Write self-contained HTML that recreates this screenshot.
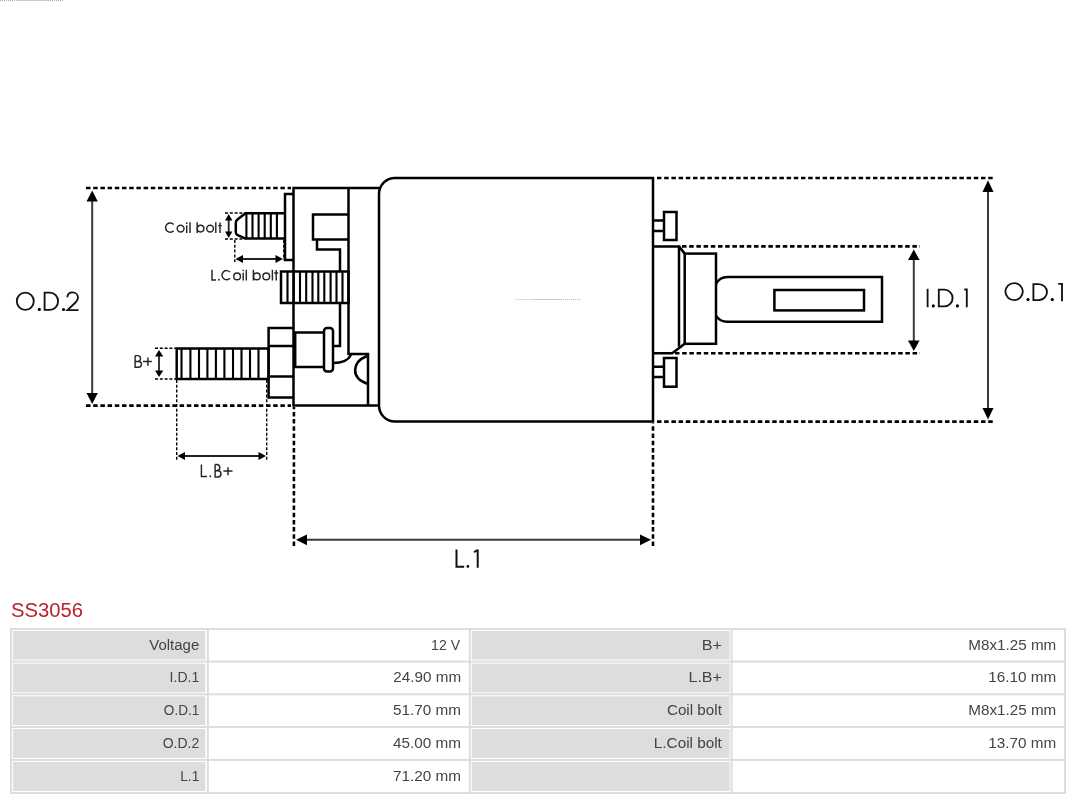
<!DOCTYPE html>
<html>
<head>
<meta charset="utf-8">
<style>
html,body{margin:0;padding:0;background:#fff;}
body{width:1080px;height:799px;position:relative;overflow:hidden;font-family:"Liberation Sans",sans-serif;}
svg{position:absolute;left:0;top:0;will-change:transform;}
.o{stroke:#000;stroke-width:2.5;fill:none;stroke-linejoin:miter;}
.s{stroke:#000;stroke-width:2.1;fill:none;}
.d{stroke:#000;stroke-width:2.6;stroke-dasharray:4.5 2.7;fill:none;}
.t{stroke:#000;stroke-width:1.4;stroke-dasharray:3 1.8;fill:none;}
.a{stroke:#3a3a3a;stroke-width:2;fill:none;}
.a2{stroke:#222;stroke-width:1.8;fill:none;}
.h{fill:#000;stroke:none;}
.gl{fill:none;stroke:#111;stroke-width:1.85;}
.gs{fill:none;stroke:#262626;stroke-width:1.45;}
.hs{fill:#262626;stroke:none;}
.title{position:absolute;left:11px;top:598px;font-size:20px;color:#b0222a;line-height:24px;}
.ln{position:absolute;background:#ddd;}
.lab{position:absolute;background:#ddd;}
.tt{font-family:"Liberation Sans",sans-serif;font-size:14px;fill:#444;}
</style>
</head>
<body>
<svg width="1080" height="799" viewBox="0 0 1080 799">
  <!-- faint artifacts -->
  <path d="M0 0.5 H16 M48 0.5 H64" stroke="#aaa" stroke-width="1" stroke-dasharray="1 1"/><path d="M16 0.5 H48" stroke="#ccc" stroke-width="1"/>
  <path d="M515.6 299.5 H532 M561 299.5 H580.5" stroke="#bbb" stroke-width="1" stroke-dasharray="1 1"/><path d="M532 299.5 H561" stroke="#ccc" stroke-width="1"/>

  <!-- main body -->
  <path class="o" d="M395 178 H653 V421.6 H395 A16 16 0 0 1 379 405.6 V194 A16 16 0 0 1 395 178 Z"/>
  <!-- flange -->
  <path class="o" d="M379 188 H293.5 V405.6 H379"/>
  <path class="o" d="M348.5 188 V354 H368 V405.6"/>
  <!-- C shape -->
  <path class="o" d="M348.5 214.4 H313 V239.4 H348.5"/>
  <path class="o" d="M317 239.4 V249.4 H340 V271.5"/>
  <path class="o" d="M340 303 V346 H333"/>
  <!-- coil terminal block -->
  <rect class="o" x="281" y="271.5" width="67.5" height="31.5"/>
  <path class="s" d="M287.5 271.5V303 M293.75 271.5V303 M300 271.5V303 M306.2 271.5V303 M312.5 271.5V303 M318.3 271.5V303 M324.3 271.5V303 M330.6 271.5V303 M336.5 271.5V303 M342.5 271.5V303"/>
  <!-- coil plate -->
  <path class="o" d="M293.5 194 H285 V260 H293.5"/>
  <!-- coil bolt -->
  <path class="o" d="M285.5 213.3 H245.5 L237.2 219.8 Q235.8 221 235.8 223 V232 Q235.8 234 237.2 235 L245.5 238.6 H285.5"/>
  <path class="s" d="M246.4 213.3V238.6 M252.5 213.3V238.6 M258.6 213.3V238.6 M264.7 213.3V238.6 M270.8 213.3V238.6 M276.9 213.3V238.6"/>
  <!-- B+ nut -->
  <path class="o" d="M293.5 328 H268.6 V397.5 H293.5 M268.6 346 H293.5 M268.6 376.5 H293.5"/>
  <!-- B+ bolt -->
  <rect class="o" x="176.7" y="348.5" width="91.9" height="30.5"/>
  <path class="s" d="M181.5 348.5V379 M190.4 348.5V379 M199 348.5V379 M207.4 348.5V379 M215.9 348.5V379 M224.4 348.5V379 M233 348.5V379 M241.5 348.5V379 M250 348.5V379 M258.5 348.5V379"/>
  <!-- pin spacer & pill -->
  <path class="o" d="M293.5 332.5 H324 M293.5 367 H324 M295.2 332.5 V367"/>
  <rect class="o" x="324" y="328" width="9" height="43.5" rx="3"/>
  <path class="o" d="M333 363 Q347 363 351 355"/>
  <path class="o" d="M367 356 C352 362 350 378 368 384"/>

  <!-- right tabs -->
  <path class="o" d="M653 220.6 H664 M653 231 H664"/>
  <rect class="o" x="664" y="212" width="12.5" height="28"/>
  <path class="o" d="M653 366.8 H664 M653 377 H664"/>
  <rect class="o" x="664" y="358" width="12.5" height="28.7"/>
  <!-- plunger -->
  <path class="o" d="M653 246.4 H679 V346.7"/>
  <path class="o" d="M679 246.4 L684.7 253.6"/>
  <rect class="o" x="684.7" y="253.6" width="31.3" height="90.2"/>
  <path class="o" d="M653 353.3 H672.2 L684.7 343.8"/>
  <path class="o" d="M716 284 Q719.5 277 727.5 277 H882 V321.8 H727.5 Q719.5 321.8 716 315.5"/>
  <rect class="o" x="774.4" y="290" width="89.6" height="20.4"/>

  <!-- O.D.2 -->
  <path class="d" d="M86 188 H291 M86 405.6 H291"/>
  <path class="a" d="M92.2 200 V395"/>
  <polygon class="h" points="92.2,190.5 86.5,201.5 97.8,201.5"/>
  <polygon class="h" points="92.2,404 86.5,393 97.8,393"/>
  <!-- O.D.1 -->
  <path class="d" d="M657 178 H994 M657 421.6 H994"/>
  <path class="a" d="M988 190 V410"/>
  <polygon class="h" points="988,180.3 982.5,192 993.5,192"/>
  <polygon class="h" points="988,419.5 982.5,408 993.5,408"/>
  <!-- I.D.1 -->
  <path class="d" d="M682 246.4 H920 M675 353.3 H920"/>
  <path class="a" d="M913.8 258 V342"/>
  <polygon class="h" points="913.8,249.5 908,260 919.6,260"/>
  <polygon class="h" points="913.8,351 908,340.5 919.6,340.5"/>
  <!-- L.1 -->
  <path class="d" d="M293.9 546 V407 M653 546 V423"/>
  <path class="a" d="M305 539.7 H642"/>
  <polygon class="h" points="296,539.7 307,534.4 307,545.3"/>
  <polygon class="h" points="651,539.7 640,534.4 640,545.3"/>
  <!-- B+ -->
  <path class="t" d="M155 348.2 H176 M155 379 H176"/>
  <path class="a2" d="M159 355 V372"/>
  <polygon class="h" points="159,350 155,356.6 163.3,356.6"/>
  <polygon class="h" points="159,377 155,370.4 163.3,370.4"/>
  <!-- L.B+ -->
  <path class="t" d="M176.7 380 V460 M266.7 380 V460"/>
  <path class="a2" d="M183 456 H260"/>
  <polygon class="h" points="177.5,456 185,452 185,460"/>
  <polygon class="h" points="266,456 258.5,452 258.5,460"/>
  <!-- Coil bolt -->
  <path class="t" d="M225 213 H245 M225 239 H245"/>
  <path class="a2" d="M228.7 219 V233"/>
  <polygon class="h" points="228.7,214 225,220.5 232.4,220.5"/>
  <polygon class="h" points="228.7,238 225,231.5 232.4,231.5"/>
  <!-- L.Coil bolt -->
  <path class="t" d="M234.8 240 V262 M283.8 240 V260"/>
  <path class="a2" d="M241 259 H277"/>
  <polygon class="h" points="235.5,259 243,255 243,263"/>
  <polygon class="h" points="283,259 275.5,255 275.5,263"/>

  <!-- labels -->

  <g class="gl">
    <ellipse cx="25.3" cy="301.2" rx="8.5" ry="8.6"/>
    <path d="M44.6 292.6 V309.8 H49.8 A8.3 8.6 0 0 0 49.8 292.6 Z"/>
    <path d="M67.3 297.2 C67.5 294.2 69.8 292.4 72.5 292.4 C75.5 292.4 78 294.6 78 297.6 C78 299.3 77.2 300.6 76 302 L67.5 310.1 H78.5"/>
  </g>
  <circle class="h" cx="39.3" cy="309.4" r="1.6"/><circle class="h" cx="63.5" cy="309.5" r="1.6"/>
  <g class="gl">
    <ellipse cx="1014.1" cy="291.6" rx="8.7" ry="8.5"/>
    <path d="M1033.4 284.1 V300.1 H1038.6 A8.4 8 0 0 0 1038.6 284.1 Z"/>
    <path d="M1058.2 283.8 H1062 V301.2"/>
  </g>
  <circle class="h" cx="1028" cy="299.6" r="1.6"/><circle class="h" cx="1052.3" cy="299.6" r="1.6"/>
  <g class="gl">
    <path d="M927.6 288.8 V307.2"/>
    <path d="M938.8 289.6 V306.4 H944.4 A8.2 8.4 0 0 0 944.4 289.6 Z"/>
    <path d="M964.3 289.5 H966.8 V307.2"/>
  </g>
  <circle class="h" cx="933.3" cy="305.9" r="1.6"/><circle class="h" cx="957.4" cy="305.9" r="1.6"/>
  <g class="gl" style="stroke-width:2">
    <path d="M456.5 549.4 V566.8 H464.2"/>
    <path d="M474 552.2 L476.6 550.4 H477.7 V567.7"/>
  </g>
  <circle class="h" cx="467.9" cy="566.4" r="1.4"/>

  <g class="gs">
    <path d="M173.62 224.52 A4.60 4.60 0 1 0 173.62 230.68"/>
    <circle cx="180.6" cy="228.6" r="3.4"/>
    <path d="M186.7 225.2 V232.9 M190 222.3 V232.9 M197.2 222.3 V232.9"/>
    <circle cx="200.6" cy="228.6" r="3.3"/>
    <circle cx="210.1" cy="228.6" r="3.4"/>
    <path d="M215.8 222.3 V232.9 M220 222.6 V232.9 M218.2 225.6 H221.8"/>
  </g>
  <circle class="hs" cx="186.7" cy="223.2" r="0.85"/>
  <g class="gs">
    <path d="M212 269.7 V279.9 H216"/>
    <path d="M229.98 272.11 A4.55 4.55 0 1 0 229.98 278.19"/>
    <circle cx="237.1" cy="276.4" r="3.35"/>
    <path d="M243.2 272.8 V280.6 M246.3 269.7 V280.6 M253.4 269.7 V280.6"/>
    <circle cx="256.8" cy="276.4" r="3.35"/>
    <circle cx="266.3" cy="276.4" r="3.35"/>
    <path d="M272.4 269.7 V280.6 M276.2 270 V280.6 M274.2 272.9 H278.2"/>
  </g>
  <circle class="hs" cx="219" cy="279.7" r="0.95"/><circle class="hs" cx="243.2" cy="270.5" r="0.85"/>
  <g class="gs">
    <path d="M135.1 355.6 H137.6 A2.95 2.95 0 0 1 137.6 361.5 H135.1 M135.1 361.5 H138.65 A2.85 2.85 0 0 1 138.65 367.2 H135.1 V355.6"/>
    <path d="M147.9 357.4 V365.7 M143 361.4 H151.8"/>
    <path d="M201.4 464.5 V476.4 H207.1"/>
    <path d="M215.1 464.5 H216.7 A3.1 3.1 0 0 1 216.7 470.7 H215.1 M215.1 470.7 H217.85 A3.15 3.15 0 0 1 217.85 477 H215.1 V464.5"/>
    <path d="M228 467.2 V475.2 M223.4 470.9 H232.5"/>
  </g>
  <circle class="hs" cx="210.3" cy="476.3" r="0.95"/>
</svg>

<svg width="1080" height="799" viewBox="0 0 1080 799" style="top:0;left:0">
<text x="11" y="617.4" font-size="20.9" fill="#b8232b" textLength="72" lengthAdjust="spacingAndGlyphs" style="font-family:'Liberation Sans',sans-serif">SS3056</text>
<rect x="10" y="628" width="1056" height="2" fill="#ddd"/>
<rect x="10" y="660.6" width="1056" height="2" fill="#ddd"/>
<rect x="10" y="693.3" width="1056" height="2" fill="#ddd"/>
<rect x="10" y="726" width="1056" height="2" fill="#ddd"/>
<rect x="10" y="758.9" width="1056" height="2" fill="#ddd"/>
<rect x="10" y="792" width="1056" height="2" fill="#ddd"/>
<rect x="10" y="628" width="2" height="166" fill="#ddd"/>
<rect x="206.9" y="628" width="2" height="166" fill="#ddd"/>
<rect x="468.8" y="628" width="2" height="166" fill="#ddd"/>
<rect x="730.6" y="628" width="2" height="166" fill="#ddd"/>
<rect x="1064" y="628" width="2" height="166" fill="#ddd"/>
<rect x="13" y="631.0" width="192.3" height="28.6" fill="#ddd"/>
<rect x="471.8" y="631.0" width="257.8" height="28.6" fill="#ddd"/>
<rect x="13" y="663.6" width="192.3" height="28.7" fill="#ddd"/>
<rect x="471.8" y="663.6" width="257.8" height="28.7" fill="#ddd"/>
<rect x="13" y="696.3" width="192.3" height="28.7" fill="#ddd"/>
<rect x="471.8" y="696.3" width="257.8" height="28.7" fill="#ddd"/>
<rect x="13" y="729.0" width="192.3" height="28.9" fill="#ddd"/>
<rect x="471.8" y="729.0" width="257.8" height="28.9" fill="#ddd"/>
<rect x="13" y="761.9" width="192.3" height="29.1" fill="#ddd"/>
<rect x="471.8" y="761.9" width="257.8" height="29.1" fill="#ddd"/>
<!--TT-->
<text class="tt" x="149.25" y="649.5" textLength="50.05" lengthAdjust="spacingAndGlyphs">Voltage</text>
<text class="tt" x="431.05" y="649.5" textLength="29.05" lengthAdjust="spacingAndGlyphs">12 V</text>
<text class="tt" x="701.69" y="649.5" textLength="20.21" lengthAdjust="spacingAndGlyphs">B+</text>
<text class="tt" x="968.37" y="649.5" textLength="87.93" lengthAdjust="spacingAndGlyphs">M8x1.25 mm</text>
<text class="tt" x="169.64" y="682.4" textLength="29.66" lengthAdjust="spacingAndGlyphs">I.D.1</text>
<text class="tt" x="393.37" y="682.4" textLength="67.73" lengthAdjust="spacingAndGlyphs">24.90 mm</text>
<text class="tt" x="688.51" y="682.4" textLength="33.39" lengthAdjust="spacingAndGlyphs">L.B+</text>
<text class="tt" x="988.28" y="682.4" textLength="68.02" lengthAdjust="spacingAndGlyphs">16.10 mm</text>
<text class="tt" x="163.87" y="715.3" textLength="35.43" lengthAdjust="spacingAndGlyphs">O.D.1</text>
<text class="tt" x="393.07" y="715.3" textLength="68.02" lengthAdjust="spacingAndGlyphs">51.70 mm</text>
<text class="tt" x="666.92" y="715.3" textLength="54.98" lengthAdjust="spacingAndGlyphs">Coil bolt</text>
<text class="tt" x="968.37" y="715.3" textLength="87.93" lengthAdjust="spacingAndGlyphs">M8x1.25 mm</text>
<text class="tt" x="162.67" y="748.2" textLength="36.63" lengthAdjust="spacingAndGlyphs">O.D.2</text>
<text class="tt" x="393.07" y="748.2" textLength="68.02" lengthAdjust="spacingAndGlyphs">45.00 mm</text>
<text class="tt" x="653.84" y="748.2" textLength="68.06" lengthAdjust="spacingAndGlyphs">L.Coil bolt</text>
<text class="tt" x="988.28" y="748.2" textLength="68.02" lengthAdjust="spacingAndGlyphs">13.70 mm</text>
<text class="tt" x="180.26" y="781.1" textLength="19.04" lengthAdjust="spacingAndGlyphs">L.1</text>
<text class="tt" x="393.07" y="781.1" textLength="68.02" lengthAdjust="spacingAndGlyphs">71.20 mm</text>
<!--/TT-->
</svg>
</body>
</html>
